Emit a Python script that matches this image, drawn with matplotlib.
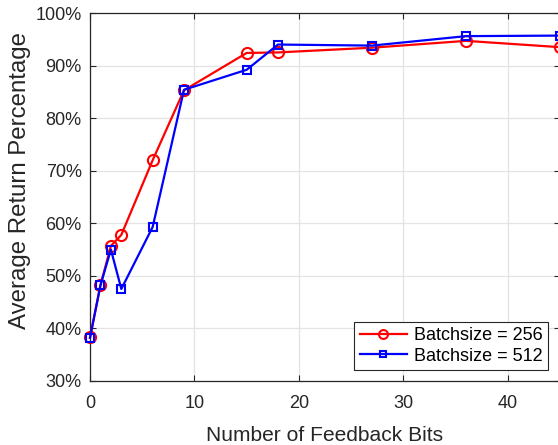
import numpy as np
import matplotlib.pyplot as plt
from matplotlib.ticker import FuncFormatter

plt.rcParams['font.family'] = ['Liberation Sans', 'DejaVu Sans']

# feedback bits and average return (%)
bits = [0, 1, 2, 3, 6, 9, 15, 18, 27, 36, 45]
ret_256 = [38.3, 48.2, 55.7, 57.8, 72.0, 85.3, 92.4, 92.5, 93.4, 94.7, 93.5]
ret_512 = [38.2, 48.2, 55.0, 47.5, 59.3, 85.4, 89.2, 94.0, 93.8, 95.6, 95.7]

xticks = [0, 10, 20, 30, 40]
yticks = [30, 40, 50, 60, 70, 80, 90, 100]

fig = plt.figure(figsize=(5.58, 4.45), dpi=100)
ax = fig.add_axes([90 / 558, 1 - 381 / 445, 470 / 558, 368 / 445])

ax.plot(bits, ret_256, color='red', lw=1.6, marker='o', ms=8, mfc='none',
        mew=1.5, label='Batchsize = 256', clip_on=False, zorder=3)
ax.plot(bits, ret_512, color='blue', lw=1.6, marker='s', ms=6, mfc='none',
        mew=1.5, label='Batchsize = 512', clip_on=False, zorder=4)

ax.set_xlim(0, 45)
ax.set_ylim(30, 100)
ax.set_xticks(xticks)
ax.set_yticks(yticks)
ax.yaxis.set_major_formatter(FuncFormatter(lambda v, p: '%d%%' % v))

dark = '#262626'
ax.grid(True, color='#e3e3e3', lw=0.9)
ax.set_axisbelow(True)
for s in ax.spines.values():
    s.set_color(dark)
    s.set_linewidth(0.9)
ax.tick_params(direction='in', top=True, right=True, length=4, width=0.8,
               colors=dark, labelsize=13)
ax.tick_params(axis='x', pad=10)
ax.tick_params(axis='y', pad=6)
for lab in ax.get_xticklabels() + ax.get_yticklabels():
    lab.set_color(dark)

ax.set_xlabel('Number of Feedback Bits', fontsize=15.1, color=dark, labelpad=10)
ax.set_ylabel('Average Return Percentage', fontsize=17.3, color=dark,
              labelpad=3, y=0.546)

leg = ax.legend(loc='lower right', bbox_to_anchor=(548 / 558, 1 - 370 / 445),
                bbox_transform=fig.transFigure, borderaxespad=0, fontsize=13,
                frameon=True, fancybox=False, edgecolor=dark, framealpha=1,
                handlelength=2.6, handletextpad=0.4, borderpad=0.3,
                labelspacing=0.2, markerscale=0.8)
leg.get_frame().set_linewidth(0.8)

fig.savefig('out.png', dpi=100)
